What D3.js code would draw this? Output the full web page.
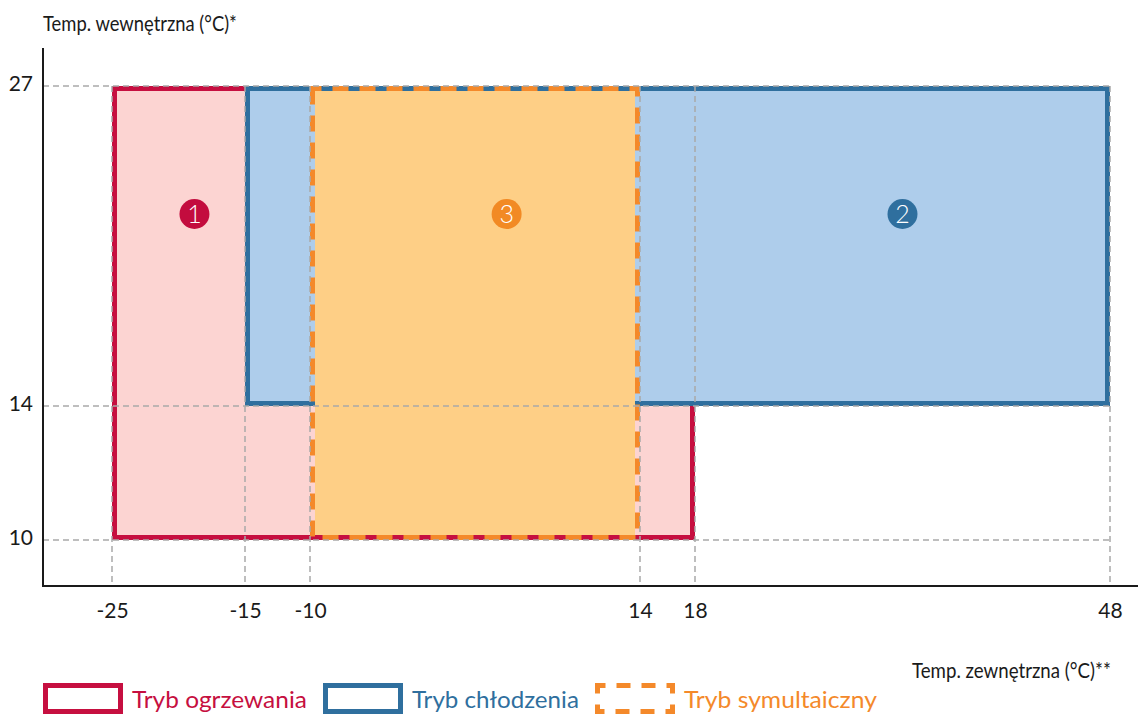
<!DOCTYPE html>
<html lang="pl">
<head>
<meta charset="utf-8">
<script src="https://cdn.jsdelivr.net/npm/d3@7"></script>
<style>
  html, body { margin: 0; padding: 0; background: #fff; }
  svg { display: block; font-family: Lato, "Open Sans", sans-serif; }
</style>
</head>
<body>
<svg id="chart" width="1138" height="715"></svg>
<script>
// Operating ranges: outdoor temperature (x) against indoor temperature (y)
const modeNames = ["Tryb ogrzewania", "Tryb chłodzenia", "Tryb symultaiczny"];
const modeBadges = ["1", "2", "3"];
const outdoorMin = [-25, -15, -10];
const outdoorMax = [18, 48, 14];
const indoorMin = [10, 14, 10];
const indoorMax = [27, 27, 27];
// badge anchor inside each range, in data units
const badgeOutdoor = [-18.8, 33, 4.3];
const badgeIndoor = [21.8, 21.8, 21.8];

const xTicks = [-25, -15, -10, 14, 18, 48];
const yTicks = [10, 14, 27];

const yTitle = "Temp. wewnętrzna (°C)*";
const xTitle = "Temp. zewnętrzna (°C)**";

// styling per mode
const strokeColors = ["#c60f40", "#2f6f9e", "#f4892a"];
const fillColors = ["#fcd4d2", "#aecdeb", "#fecf86"];
const badgeColors = ["#c30c3e", "#2f6f9e", "#f28a24"];
const dashed = [false, false, true];

const svg = d3.select("#chart");
const SW = 5; // border width of the range boxes

// piecewise scales through the tick values
const x = d3.scaleLinear().domain(xTicks).range([112, 245, 310, 640, 695, 1110]);
const y = d3.scaleLinear().domain(yTicks).range([540, 406, 86]);

const axisX = 43, axisY = 586;

// narrow-set text: squeeze horizontally to the given width
function condensedText(parent, str, px, py, size, color, width) {
  const g = parent.append("g");
  const t = g.append("text").attr("font-size", size).attr("fill", color).text(str);
  const natural = t.node().getComputedTextLength();
  g.attr("transform", `translate(${px},${py}) scale(${width / natural},1)`);
  return g;
}

const modes = modeNames.map((name, i) => ({
  name, i,
  x0: outdoorMin[i], x1: outdoorMax[i],
  y0: indoorMin[i], y1: indoorMax[i],
  badge: modeBadges[i], bx: badgeOutdoor[i], by: badgeIndoor[i]
}));

// range boxes, drawn in order: heating, cooling, simultaneous
const boxes = svg.append("g");
modes.forEach(m => {
  const left = x(m.x0), right = x(m.x1), top = y(m.y1), bottom = y(m.y0);
  const g = boxes.append("g");
  if (!dashed[m.i]) {
    g.append("rect")
      .attr("x", left + SW / 2).attr("y", top + SW / 2)
      .attr("width", right - left - SW).attr("height", bottom - top - SW)
      .attr("fill", fillColors[m.i])
      .attr("stroke", strokeColors[m.i]).attr("stroke-width", SW);
  } else {
    g.append("rect")
      .attr("x", left + SW).attr("y", top + SW)
      .attr("width", right - left - 2 * SW).attr("height", bottom - top - 2 * SW)
      .attr("fill", fillColors[m.i]);
    g.append("rect")
      .attr("x", left + SW / 2).attr("y", top + SW / 2)
      .attr("width", right - left - SW).attr("height", bottom - top - SW)
      .attr("fill", "none")
      .attr("stroke", strokeColors[m.i]).attr("stroke-width", SW)
      .attr("stroke-dasharray", "16,11").attr("stroke-dashoffset", 7);
  }
});

// dashed reference lines at each tick
const grid = svg.append("g")
  .attr("stroke", "#a9a9a9").attr("stroke-width", 1.5)
  .attr("stroke-dasharray", "6,4").attr("fill", "none");
grid.selectAll("line.h").data(yTicks).join("line").attr("class", "h")
  .attr("x1", axisX).attr("x2", x(d3.max(xTicks)))
  .attr("y1", d => y(d)).attr("y2", d => y(d));
grid.selectAll("line.v").data(xTicks).join("line").attr("class", "v")
  .attr("x1", d => x(d)).attr("x2", d => x(d))
  .attr("y1", y(d3.max(yTicks))).attr("y2", axisY);

// axes
const xAxis = svg.append("g").attr("transform", `translate(0,${axisY})`)
  .call(d3.axisBottom(x).tickValues(xTicks).tickSize(0).tickPadding(17).tickFormat(d => String(d)));
const yAxis = svg.append("g").attr("transform", `translate(${axisX},0)`)
  .call(d3.axisLeft(y).tickValues(yTicks).tickSize(0).tickPadding(10).tickFormat(d => String(d)));
[xAxis, yAxis].forEach(a => {
  a.select(".domain").remove();
  a.selectAll("text").attr("font-size", 21).attr("fill", "#1a1a1a")
    .attr("font-family", "Lato, 'Open Sans', sans-serif");
});
yAxis.selectAll("text").attr("dy", "0.2em");

svg.append("line").attr("x1", axisX).attr("x2", axisX).attr("y1", 48).attr("y2", axisY + 1)
  .attr("stroke", "#1a1a1a").attr("stroke-width", 2);
svg.append("line").attr("x1", axisX - 1).attr("x2", 1138).attr("y1", axisY).attr("y2", axisY)
  .attr("stroke", "#1a1a1a").attr("stroke-width", 2);

// axis titles
condensedText(svg, yTitle, 43, 31, 22, "#1a1a1a", 194);
condensedText(svg, xTitle, 912, 678, 22, "#1a1a1a", 199);

// numbered badges
const badges = svg.append("g").selectAll("g").data(modes).join("g")
  .attr("transform", m => `translate(${x(m.bx)},${y(m.by)})`);
badges.append("circle").attr("r", 15).attr("fill", m => badgeColors[m.i]);
badges.append("text").attr("text-anchor", "middle").attr("dy", "0.36em")
  .attr("font-size", 25).attr("fill", "#fff").attr("font-weight", 300)
  .text(m => m.badge);

// legend
const legendLayout = { x: 43, top: 683, boxW: 80, boxH: 31, textGap: 9, itemGap: 16,
  textW: [175, 167, 193], baseline: 708 };
let lx = legendLayout.x;
const legend = svg.append("g");
modes.forEach(m => {
  const g = legend.append("g");
  const r = g.append("rect")
    .attr("x", lx + SW / 2).attr("y", legendLayout.top + SW / 2)
    .attr("width", legendLayout.boxW - SW).attr("height", legendLayout.boxH - SW)
    .attr("fill", "#fff").attr("stroke", strokeColors[m.i]).attr("stroke-width", SW);
  if (dashed[m.i]) r.attr("stroke-dasharray", "14,11").attr("stroke-dashoffset", 6);
  const tx = lx + legendLayout.boxW + legendLayout.textGap;
  condensedText(g, m.name, tx, legendLayout.baseline, 24, strokeColors[m.i], legendLayout.textW[m.i]);
  lx = tx + legendLayout.textW[m.i] + legendLayout.itemGap;
});
</script>
</body>
</html>
